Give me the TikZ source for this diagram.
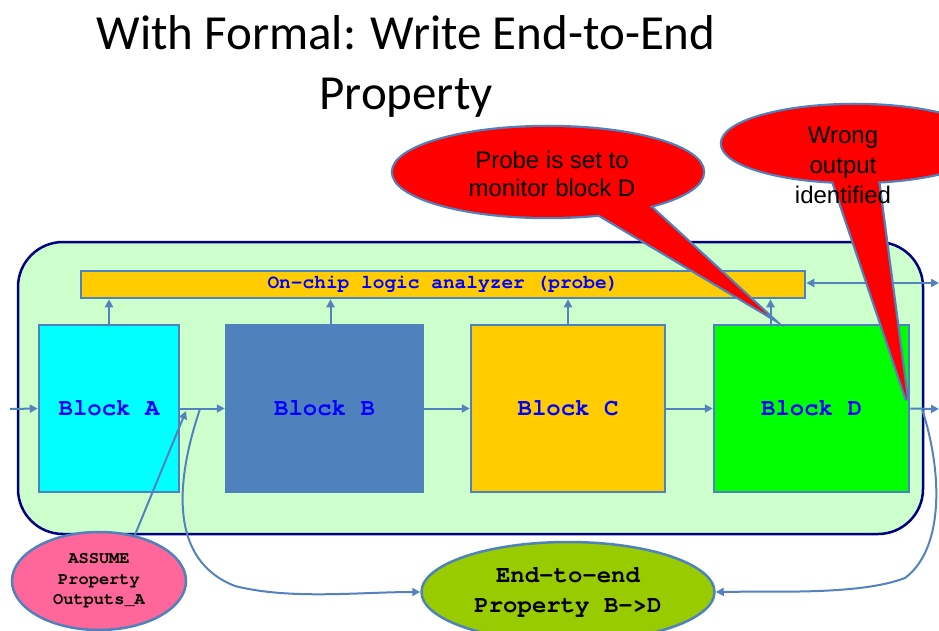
\documentclass[tikz,border=0pt]{standalone}
\usepackage{fontspec}
\setmainfont{Liberation Sans}
\setmonofont{TeX Gyre Cursor}
\newfontfamily\titlefont{Carlito}
\usetikzlibrary{arrows.meta,shapes.geometric}
\definecolor{bord}{RGB}{79,129,189}
\definecolor{lineblue}{RGB}{84,130,190}
\definecolor{navyb}{RGB}{0,0,128}
\definecolor{paleg}{RGB}{204,255,204}
\definecolor{gold}{RGB}{255,204,0}
\definecolor{steel}{RGB}{79,129,189}
\definecolor{pinkc}{RGB}{255,102,153}
\definecolor{olivec}{RGB}{153,204,0}
\definecolor{textblue}{RGB}{0,0,255}
\definecolor{limeg}{RGB}{0,255,0}
\definecolor{cyanb}{RGB}{0,255,255}
\begin{document}
\begin{tikzpicture}[x=1pt,y=-1pt,
  blk/.style={draw=bord, line width=2.5pt, inner sep=0pt, minimum height=167pt,
    font=\ttfamily\bfseries\fontsize{24}{28}\selectfont, text=textblue},
  conn/.style={draw=lineblue, line width=2pt, -{Triangle[length=8pt,width=8pt]}},
  bubble/.style={ellipse, draw=bord, line width=2.5pt, inner sep=0pt, align=center},
  ctext/.style={align=center, text=black, font=\fontsize{24}{28}\selectfont}
]
\useasboundingbox (0,0) rectangle (939,631);
\clip (0,0) rectangle (939,631);

% title
\node[anchor=base, font=\titlefont\fontsize{49}{60}\selectfont] (t1) at (406,50) {With Formal: Write End-to-End};
\node[anchor=base, font=\titlefont\fontsize{49}{60}\selectfont] (t2) at (406,110) {Property};

% outer board
\node[draw=navyb, line width=2.5pt, fill=paleg, rounded corners=45pt,
  minimum width=905pt, minimum height=292pt] (outer) at (470.5,388) {};

% probe bar
\node[draw=bord, line width=2.5pt, fill=gold, minimum width=724pt, minimum height=27pt,
  inner sep=0pt, text=textblue, font=\ttfamily\bfseries\fontsize{19.5}{22}\selectfont] (bar) at (443,284.5) {On-chip logic analyzer (probe)};

% blocks
\node[blk, fill=cyanb, minimum width=140pt] (A) at (109,408.5) {Block A};
\node[blk, fill=steel, minimum width=197pt] (B) at (324.5,408.5) {Block B};
\node[blk, fill=gold, minimum width=194pt] (C) at (568,408.5) {Block C};
\node[blk, fill=limeg, minimum width=195pt] (D) at (811.5,408.5) {Block D};

% up arrows to probe
\draw[conn] (A.north) -- (A.north |- bar.south);
\draw[conn] ([xshift=6pt]B.north) -- ([xshift=6pt]B.north |- bar.south);
\draw[conn] (C.north) -- (C.north |- bar.south);
\draw[conn] ([xshift=-41pt]D.north) -- ([xshift=-41pt]D.north |- bar.south);

% data path
\coordinate (in) at (10,409);
\coordinate (out) at (939,409);
\coordinate (pr) at (939,283);
\draw[conn] (in) -- (A.west);
\draw[conn] (A.east) -- (B.west);
\draw[conn] (B.east) -- (C.west);
\draw[conn] (C.east) -- (D.west);
\draw[conn] (D.east) -- (out);
\draw[conn, {Triangle[length=8pt,width=8pt]}-{Triangle[length=8pt,width=8pt]}] (bar.east |- pr) -- (pr);

% property ellipses
\node[bubble, fill=pinkc, minimum width=174pt, minimum height=98pt,
  font=\ttfamily\bfseries\fontsize{17}{20.5}\selectfont] (assume) at (99,581) {ASSUME\\Property\\Outputs\_A};
\node[bubble, fill=olivec, minimum width=293pt, minimum height=100pt,
  font=\ttfamily\bfseries\fontsize{24}{30}\selectfont] (e2e) at (568,592) {End-to-end\\Property B->D};

\coordinate (asmtip) at (186,411);
\draw[conn] (assume.52) -- (asmtip);

\coordinate (tapAB) at (200,409);
\coordinate (tapD) at (922,409);
\draw[conn] (tapAB) .. controls (176,480) and (168,560) .. (235,586)
  .. controls (290,600) and (360,592) .. (e2e.west);
\draw[conn] (tapD) .. controls (942,470) and (945,548) .. (905,578)
  .. controls (860,595) and (780,591) .. (e2e.east);

% callout 1
\coordinate (c1) at (548,172);
\coordinate (c1a) at (588,208);
\coordinate (c1tip) at (768,315);
\coordinate (c1b) at (645,202);
\path[draw=bord, line width=4.5pt] (c1) ellipse [x radius=155, y radius=45];
\path[draw=bord, line width=4.5pt] (c1a) -- (c1tip) -- (c1b) -- cycle;
\fill[red] (c1) ellipse [x radius=155, y radius=45];
\fill[red] (c1a) -- (c1tip) -- (c1b) -- cycle;
\node[ctext] (c1text) at (552,174) {Probe is set to\\monitor block D};

% callout 2
\coordinate (c2) at (855,143.5);
\coordinate (c2a) at (830,172);
\coordinate (c2tip) at (907,400);
\coordinate (c2b) at (877,173);
\path[draw=bord, line width=4.5pt] (c2) ellipse [x radius=133, y radius=38.5];
\path[draw=bord, line width=4.5pt] (c2a) -- (c2tip) -- (c2b) -- cycle;
\fill[red] (c2) ellipse [x radius=133, y radius=38.5];
\fill[red] (c2a) -- (c2tip) -- (c2b) -- cycle;
\node[ctext, font=\fontsize{24}{30}\selectfont] (c2text) at (843,165) {Wrong\\output\\identified};
\end{tikzpicture}
\end{document}
